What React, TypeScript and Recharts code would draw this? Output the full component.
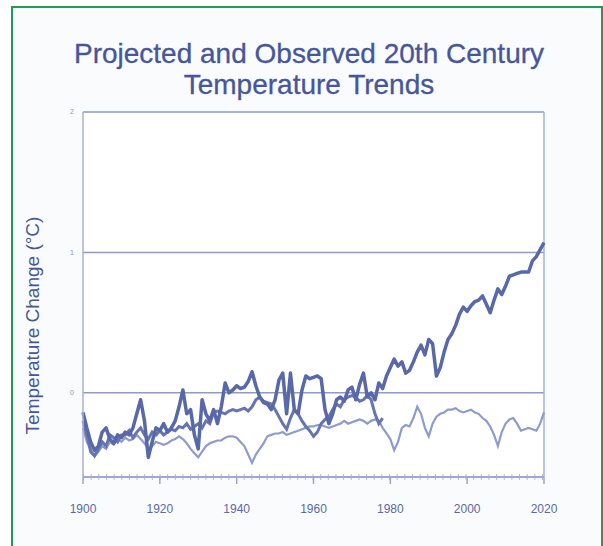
import React from 'react';
import {
    LineChart,
    Line,
    XAxis,
    YAxis,
    CartesianGrid,
    ReferenceLine
} from 'recharts';

// valori, an cu an, de la 1900
const START_YEAR = 1900;

// linia groasa (observat), 1900-2020
const observed = [
    -0.14, -0.25, -0.35, -0.41, -0.38, -0.28, -0.25, -0.33, -0.36, -0.30, // 1900
    -0.32, -0.28, -0.30, -0.25, -0.15, -0.05, -0.20, -0.46, -0.35, -0.25, // 1910
    -0.27, -0.22, -0.28, -0.25, -0.20, -0.10, 0.02, -0.15, -0.12, -0.30,  // 1920
    -0.40, -0.05, -0.15, -0.20, -0.12, -0.22, -0.10, 0.07, 0.00, 0.02,    // 1930
    0.05, 0.03, 0.04, 0.08, 0.15, 0.05, -0.03, -0.07, -0.08, -0.12,       // 1940
    -0.05, 0.09, 0.14, -0.15, 0.14, -0.12, -0.15, 0.02, 0.12, 0.10,       // 1950
    0.11, 0.12, 0.10, -0.12, -0.22, -0.15, -0.05, -0.03, -0.06, 0.02,     // 1960
    0.04, -0.05, 0.06, 0.14, -0.03, 0.00, -0.05, 0.07, 0.03, 0.12,        // 1970
    0.18, 0.24, 0.19, 0.22, 0.14, 0.16, 0.22, 0.29, 0.34, 0.27,           // 1980
    0.38, 0.35, 0.12, 0.18, 0.29, 0.38, 0.42, 0.48, 0.56, 0.61,           // 1990
    0.58, 0.62, 0.65, 0.66, 0.69, 0.63, 0.57, 0.66, 0.74, 0.70,           // 2000
    0.76, 0.83, 0.84, 0.85, 0.86, 0.86, 0.86, 0.94, 0.97, 1.02,           // 2010
    1.07                                                                  // 2020
];

// linia medie, 1900-1978
const modelAll = [
    -0.20, -0.30, -0.42, -0.45, -0.40, -0.35, -0.38, -0.30, -0.32, -0.35,
    -0.30, -0.30, -0.27, -0.32, -0.28, -0.25, -0.30, -0.33, -0.28, -0.30,
    -0.27, -0.30, -0.28, -0.26, -0.27, -0.24, -0.25, -0.22, -0.26, -0.24,
    -0.22, -0.25, -0.20, -0.22, -0.14, -0.13, -0.14, -0.15, -0.13, -0.12,
    -0.13, -0.12, -0.11, -0.13, -0.10, -0.05, -0.03, -0.06, -0.07, -0.08,
    -0.12, -0.17, -0.22, -0.26, -0.18, -0.12, -0.15, -0.20, -0.24, -0.27,
    -0.31, -0.28, -0.22, -0.19, -0.17, -0.12, -0.08, -0.10, -0.05, -0.03,
    -0.02, -0.03, -0.06, -0.05, -0.02, -0.05, -0.15, -0.22, -0.18
];

// linia subtire, 1900-2020
const naturalOnly = [
    -0.25, -0.35, -0.40, -0.45, -0.42, -0.38, -0.40, -0.35, -0.37, -0.33,
    -0.35, -0.32, -0.34, -0.33, -0.30, -0.33, -0.36, -0.40, -0.38, -0.35,
    -0.36, -0.37, -0.36, -0.34, -0.33, -0.31, -0.33, -0.36, -0.40, -0.43,
    -0.46, -0.42, -0.38, -0.36, -0.35, -0.34, -0.34, -0.32, -0.31, -0.31,
    -0.32, -0.35, -0.38, -0.44, -0.50, -0.44, -0.40, -0.36, -0.31, -0.30,
    -0.29, -0.29, -0.28, -0.30, -0.29, -0.28, -0.27, -0.26, -0.25, -0.24,
    -0.24, -0.23, -0.23, -0.24, -0.25, -0.24, -0.23, -0.22, -0.20, -0.22,
    -0.21, -0.20, -0.19, -0.20, -0.22, -0.20, -0.19, -0.20, -0.25, -0.29,
    -0.33, -0.41, -0.35, -0.25, -0.23, -0.24, -0.18, -0.10, -0.15, -0.25,
    -0.31, -0.22, -0.17, -0.15, -0.14, -0.12, -0.12, -0.11, -0.13, -0.14,
    -0.13, -0.12, -0.14, -0.15, -0.18, -0.20, -0.24, -0.30, -0.38, -0.28,
    -0.22, -0.19, -0.18, -0.22, -0.27, -0.26, -0.25, -0.26, -0.27, -0.22,
    -0.14
];

const xTicks = [1900, 1920, 1940, 1960, 1980, 2000, 2020];
const yTicks = [0, 1, 2];

const toRows = (values: number[]) =>
    values.map((v, i) => ({ year: START_YEAR + i, value: v }));

const titleColor = '#46569b';
const frameColor = '#a9b1d6';
const font = '"Liberation Sans", Arial, sans-serif';

export default function App() {
    return (
        <div style={{ position: 'absolute', left: 0, top: 0, width: 603, height: 546, background: '#fff', overflow: 'hidden' }}>
            <div
                style={{
                    position: 'absolute',
                    left: 11,
                    top: 6,
                    width: 588,
                    height: 560,
                    border: '2px solid #1f9d55',
                    background: '#fafbfd'
                }}
            />
            <div
                style={{
                    position: 'absolute',
                    left: 0,
                    top: 38,
                    width: 618,
                    textAlign: 'center',
                    fontFamily: font,
                    fontSize: 28,
                    lineHeight: '31px',
                    color: titleColor,
                    WebkitTextStroke: '0.3px ' + titleColor
                }}
            >
                Projected and Observed 20th Century
                <br />
                Temperature Trends
            </div>
            <div style={{ position: 'absolute', left: 0, top: 0 }}>
                <LineChart
                    width={603}
                    height={546}
                    margin={{ top: 112, right: 59, left: 23, bottom: 19 }}
                    style={{ fontFamily: font }}
                >
                    <CartesianGrid vertical={false} stroke="#8f9acb" strokeWidth={1.5} fill="#ffffff" />
                    <XAxis
                        type="number"
                        dataKey="year"
                        domain={[1900, 2020]}
                        ticks={xTicks}
                        height={50}
                        axisLine={{ stroke: '#9ba4d0', strokeWidth: 1.5 }}
                        tickLine={{ stroke: '#9ba4d0', strokeWidth: 1.5 }}
                        tickSize={7}
                        tickMargin={20}
                        tick={{ fontSize: 12, fill: '#5b69a8' }}
                        allowDuplicatedCategory={false}
                    />
                    <YAxis
                        type="number"
                        domain={[-0.6, 2]}
                        ticks={yTicks}
                        width={60}
                        axisLine={{ stroke: frameColor, strokeWidth: 1.5 }}
                        tickLine={false}
                        tickMargin={3}
                        tick={{ fontSize: 7, fill: '#8a93c0' }}
                        label={{
                            value: 'Temperature Change (°C)',
                            angle: -90,
                            position: 'insideLeft',
                            dx: 4,
                            dy: 31,
                            fill: titleColor,
                            fontSize: 19,
                            style: { textAnchor: 'middle' }
                        }}
                    />
                    <ReferenceLine y={2} stroke={frameColor} strokeWidth={1.5} />
                    <ReferenceLine x={2020} stroke={frameColor} strokeWidth={1.5} />
                    {/* mici gradatii pe axa de jos */}
                    <ReferenceLine y={-0.6} stroke="#b3bade" strokeWidth={6} strokeDasharray="1 6.65" />
                    <Line
                        data={toRows(naturalOnly)}
                        dataKey="value"
                        type="linear"
                        stroke="#8e9bcd"
                        strokeWidth={2.2}
                        dot={false}
                        isAnimationActive={false}
                    />
                    <Line
                        data={toRows(modelAll)}
                        dataKey="value"
                        type="linear"
                        stroke="#6675b2"
                        strokeWidth={3}
                        dot={false}
                        isAnimationActive={false}
                    />
                    <Line
                        data={toRows(observed)}
                        dataKey="value"
                        type="linear"
                        stroke="#5868a9"
                        strokeWidth={3.5}
                        strokeLinejoin="round"
                        dot={false}
                        isAnimationActive={false}
                    />
                </LineChart>
            </div>
        </div>
    );
}
